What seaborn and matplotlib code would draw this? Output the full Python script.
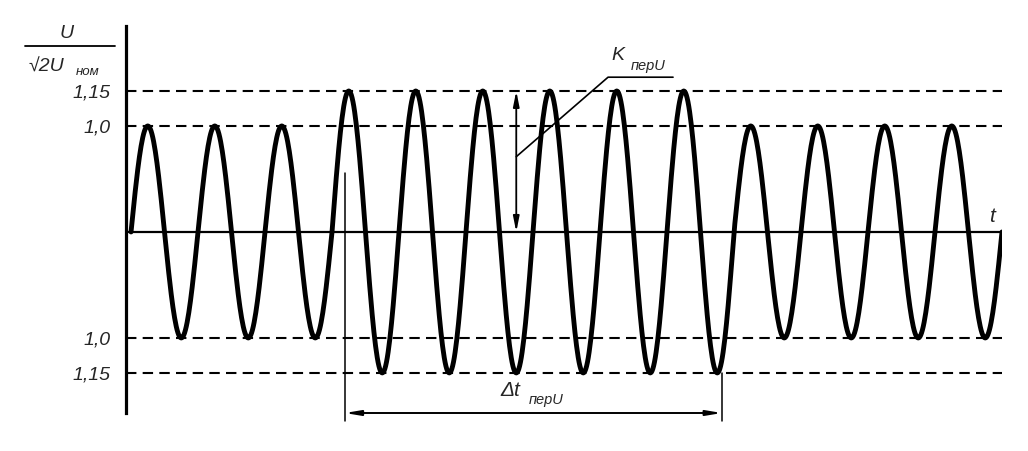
import numpy as np
import pandas as pd
import seaborn as sns
import matplotlib.pyplot as plt
from matplotlib.lines import Line2D

# peaks / troughs for each period, drawn scale (the 1,15 level sits at 1.33 on the sketch)
peaks = [1.0, 1.0, 1.0, 1.33, 1.33, 1.33, 1.33, 1.33, 1.33, 1.0, 1.0, 1.0, 1.0]
troughs = [1.0, 1.0, 1.0, 1.33, 1.33, 1.33, 1.33, 1.33, 1.33, 1.0, 1.0, 1.0, 1.0]

level_pos = [1.33, 1.0, -1.0, -1.33]
level_labels = ["1,15", "1,0", "1,0", "1,15"]

dt_start, dt_end = 3.19, 8.82   # duration of the surge (periods)
k_x = 5.75                      # where K_перU is shown

# build the wave, one period at a time
t_all, u_all = [], []
for i in range(len(peaks)):
    tt = np.linspace(i, i + 1, 81)
    ph = tt - i
    amp = np.where(ph < 0.5, peaks[i], troughs[i])
    t_all.append(tt)
    u_all.append(amp * np.sin(2 * np.pi * ph))
df = pd.DataFrame({"t": np.concatenate(t_all), "u": np.concatenate(u_all)})

sns.set_style("white")
plt.rcParams['font.family'] = ['Liberation Sans', 'DejaVu Sans']
plt.rcParams['font.style'] = 'italic'

W, H = 1028, 451
fig = plt.figure(figsize=(W / 100, H / 100), dpi=100)
ax = fig.add_axes([126 / W, (H - 413) / H, (1002 - 126) / W, (413 - 26) / H])


def px(x, y):
    return x / W, 1 - y / H


sns.lineplot(data=df, x="t", y="u", color="black", lw=3.5, estimator=None,
             sort=False, ax=ax)

for lv in level_pos:
    ax.axhline(lv, color="black", lw=1.5, ls=(0, (5, 3)))
ax.axhline(0, color="black", lw=1.6)

ax.set_xlim(-0.075, 13.0)
ax.set_ylim(-1.708, 1.943)
for s in ["top", "right", "bottom"]:
    ax.spines[s].set_visible(False)
ax.spines["left"].set_linewidth(2.3)
ax.spines["left"].set_color("black")
ax.set_xticks([])
ax.set_yticks(level_pos, level_labels)
ax.tick_params(axis="y", length=0, pad=11, labelsize=14)
for lab in ax.get_yticklabels():
    lab.set_fontstyle("italic")
ax.set_xlabel("")
ax.set_ylabel("")

# K_перU : double arrow + leader
ax.annotate("", xy=(k_x, level_pos[0]), xytext=(k_x, 0),
            arrowprops=dict(arrowstyle="<|-|>,head_width=0.18,head_length=0.9",
                            color="black", lw=1.3, shrinkA=0, shrinkB=0))
ax.plot([k_x, 7.12, 8.09], [0.71, 1.46, 1.46], color="black", lw=1.2)
ax.text(7.27, 1.66, "K", fontsize=14, ha="center", va="center", style="italic")
ax.text(7.72, 1.57, "перU", fontsize=10.5, ha="center", va="center", style="italic")

# Δt_перU
ax.annotate("", xy=(dt_start, -1.708), xytext=(dt_end, -1.708),
            arrowprops=dict(arrowstyle="<|-|>,head_width=0.15,head_length=0.9",
                            color="black", lw=1.4, shrinkA=0, shrinkB=0),
            annotation_clip=False)
ax.plot([dt_start, dt_start], [0.56, -1.78], color="black", lw=1.1, clip_on=False)
ax.plot([dt_end, dt_end], [-1.33, -1.78], color="black", lw=1.1, clip_on=False)
ax.text(5.66, -1.50, "Δt", fontsize=15, ha="center", va="center", style="italic")
ax.text(6.2, -1.585, "перU", fontsize=10.5, ha="center", va="center", style="italic")

# t axis label
ax.text(12.85, 0.15, "t", fontsize=15, ha="center", va="center", style="italic")

# y label as a fraction U / (√2 U_ном)
fig.text(*px(67, 34), "U", fontsize=14, ha="center", va="center", style="italic")
fig.add_artist(Line2D([25 / W, 115 / W], [1 - 46 / H, 1 - 46 / H],
                      color="black", lw=1.3))
fig.text(*px(46, 67), "√2U", fontsize=14, ha="center", va="center", style="italic")
fig.text(*px(88, 72), "ном", fontsize=9.5, ha="center", va="center", style="italic")

fig.savefig("out.png", dpi=100, facecolor="white")
